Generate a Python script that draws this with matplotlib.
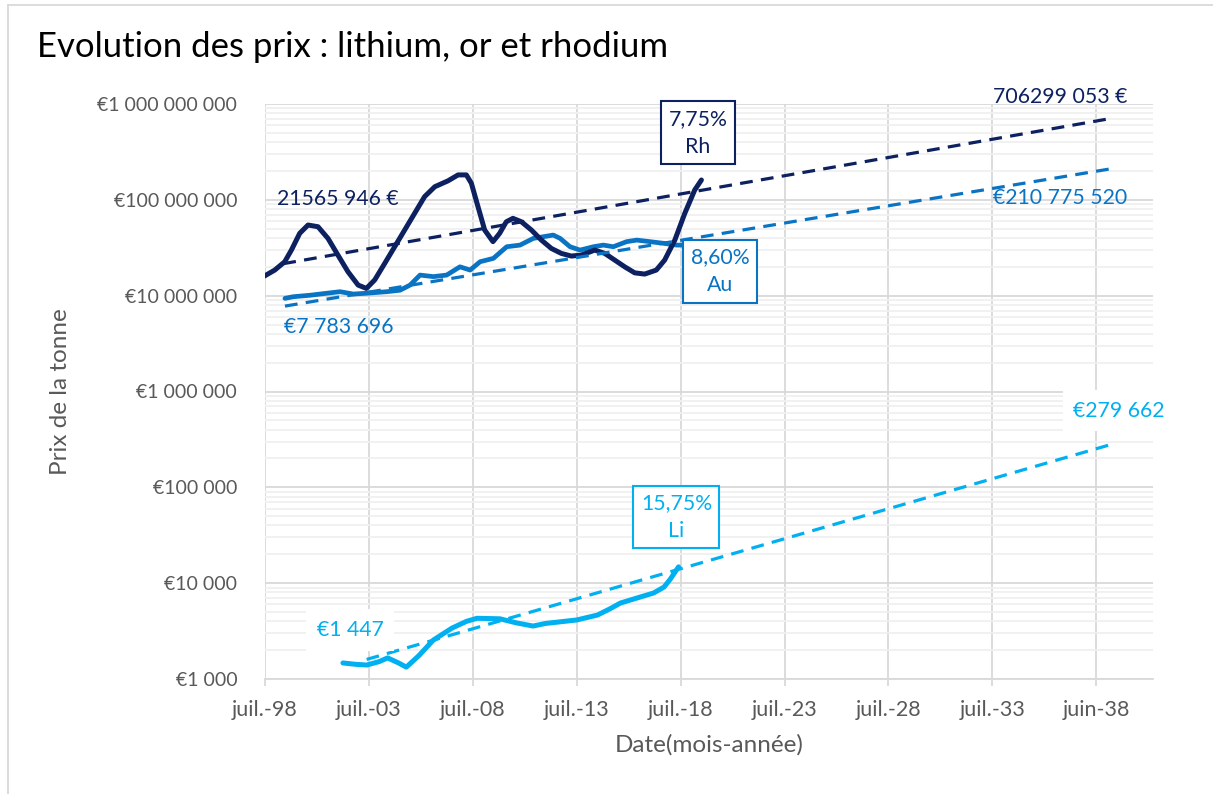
import numpy as np
import matplotlib
matplotlib.use("Agg")
import matplotlib.pyplot as plt
from matplotlib.lines import Line2D
from matplotlib.ticker import FixedLocator, LogLocator, NullFormatter

plt.rcParams['font.family'] = ['Lato', 'DejaVu Sans']

# colours
RH_COL = '#0D2160'
AU_COL = '#0A74C4'
LI_COL = '#00B0F0'
GREY = '#595959'

# rhodium (decimal year, EUR / t)
rh_year = [1998.40, 1998.97, 1999.45, 1999.77, 2000.17, 2000.57, 2001.05, 2001.53,
           2002.01, 2002.49, 2002.98, 2003.38, 2003.78, 2004.26, 2004.74, 2005.22,
           2005.70, 2006.18, 2006.67, 2007.31, 2007.79, 2008.19, 2008.43, 2008.75,
           2009.07, 2009.47, 2009.79, 2010.11, 2010.43, 2010.84, 2011.32, 2011.80,
           2012.28, 2012.76, 2013.24, 2013.72, 2014.37, 2014.85, 2015.33, 2015.81,
           2016.29, 2016.77, 2017.33, 2017.73, 2018.22, 2018.70, 2019.18, 2019.50]
rh_price = [1.57e7, 1.85e7, 2.26e7, 2.99e7, 4.47e7, 5.46e7, 5.24e7, 3.96e7,
            2.65e7, 1.78e7, 1.29e7, 1.19e7, 1.46e7, 2.17e7, 3.24e7, 4.84e7,
            7.23e7, 1.08e8, 1.37e8, 1.58e8, 1.82e8, 1.82e8, 1.49e8, 8.47e7,
            4.84e7, 3.66e7, 4.47e7, 5.9e7, 6.41e7, 5.9e7, 4.84e7, 3.8e7,
            3.11e7, 2.76e7, 2.59e7, 2.65e7, 2.99e7, 2.76e7, 2.35e7, 2.0e7,
            1.73e7, 1.68e7, 1.85e7, 2.35e7, 3.8e7, 7.23e7, 1.27e8, 1.61e8]

# or / gold
au_year = [1999.46, 1999.86, 2000.67, 2001.47, 2002.11, 2002.75, 2003.39, 2004.36,
           2005.0, 2005.48, 2005.96, 2006.6, 2007.24, 2007.88, 2008.37, 2008.85,
           2009.49, 2010.13, 2010.77, 2011.41, 2011.89, 2012.37, 2012.7, 2013.18,
           2013.66, 2014.3, 2014.78, 2015.26, 2015.9, 2016.39, 2017.03, 2017.67,
           2018.31, 2018.79]
au_price = [9.37e6, 9.75e6, 1.01e7, 1.06e7, 1.1e7, 1.04e7, 1.06e7, 1.1e7,
            1.14e7, 1.29e7, 1.64e7, 1.58e7, 1.64e7, 2.0e7, 1.85e7, 2.26e7,
            2.45e7, 3.24e7, 3.37e7, 3.96e7, 4.12e7, 4.29e7, 3.96e7, 3.24e7,
            2.99e7, 3.24e7, 3.37e7, 3.24e7, 3.66e7, 3.8e7, 3.66e7, 3.52e7,
            3.37e7, 3.37e7]

# lithium
li_year = [2002.25, 2002.9, 2003.4, 2004.0, 2004.4, 2004.9, 2005.3, 2005.9,
           2006.6, 2007.5, 2008.2, 2008.7, 2009.8, 2010.6, 2011.4, 2012.0,
           2012.7, 2013.5, 2014.5, 2015.1, 2015.6, 2016.4, 2017.2, 2017.7,
           2018.0, 2018.4]
li_price = [1470, 1420, 1400, 1520, 1660, 1480, 1330, 1750,
            2550, 3400, 4000, 4300, 4250, 3850, 3570, 3800,
            3950, 4130, 4650, 5400, 6200, 7000, 7900, 9100,
            11000, 14800]

# exponential trend lines (start, end)
rh_trend_year = [1999.38, 2039.2]
rh_trend = [21565946, 706299053]
au_trend_year = [1999.46, 2039.2]
au_trend = [7783696, 210775520]
li_trend_year = [2003.39, 2039.2]
li_trend = [1600, 279662]

tick_years = [1998.5 + 5 * i for i in range(9)]
tick_labels = ['juil.-98', 'juil.-03', 'juil.-08', 'juil.-13', 'juil.-18',
               'juil.-23', 'juil.-28', 'juil.-33', 'juin-38']
y_ticks = [1e3, 1e4, 1e5, 1e6, 1e7, 1e8, 1e9]
y_labels = ['€1 000', '€10 000', '€100 000', '€1 000 000', '€10 000 000',
            '€100 000 000', '€1 000 000 000']

fig = plt.figure(figsize=(12.13, 7.94), dpi=100)
ax = fig.add_axes([265 / 1213, 1 - 679 / 794, 888 / 1213, 575 / 794])

ax.set_yscale('log')
ax.set_xlim(1998.5, 2041.23)
ax.set_ylim(1e3, 1e9)

# grid
ax.yaxis.set_major_locator(FixedLocator(y_ticks))
ax.yaxis.set_minor_locator(LogLocator(base=10, subs=np.arange(2, 10)))
ax.yaxis.set_minor_formatter(NullFormatter())
ax.set_yticklabels(y_labels)
ax.set_xticks(tick_years)
ax.set_xticklabels(tick_labels)
ax.grid(which='major', axis='both', color='#D9D9D9', lw=1.3, zorder=0)
ax.grid(which='minor', axis='y', color='#F0F0F0', lw=1.3, zorder=0)
ax.set_axisbelow(True)
for s in ['top', 'right', 'left']:
    ax.spines[s].set_visible(False)
ax.spines['bottom'].set_color('#D9D9D9')
ax.spines['bottom'].set_linewidth(1.3)
ax.tick_params(axis='y', which='both', length=0, labelsize=14, labelcolor=GREY, pad=20)
ax.tick_params(axis='x', length=5, color='#D9D9D9', width=1.3, labelsize=15.5,
               labelcolor=GREY, pad=10)

# data
ax.plot(li_year, li_price, color=LI_COL, lw=3.6, solid_capstyle='round',
        solid_joinstyle='round', zorder=3)
ax.plot(au_year, au_price, color=AU_COL, lw=3.4, solid_capstyle='round',
        solid_joinstyle='round', zorder=3)
ax.plot(rh_year, rh_price, color=RH_COL, lw=3.6, solid_capstyle='round',
        solid_joinstyle='round', zorder=4)

# trends
ax.plot(li_trend_year, li_trend, color=LI_COL, lw=2.3, dashes=(4, 2.6), zorder=5)
ax.plot(au_trend_year, au_trend, color=AU_COL, lw=2.3, dashes=(4, 2.6), zorder=5)
ax.plot(rh_trend_year, rh_trend, color=RH_COL, lw=2.3, dashes=(4, 2.6), zorder=5)

# annotations
fs = 15.3
def box(x, y, txt, col):
    ax.text(x, y, txt, color=col, fontsize=fs, ha='center', va='center',
            linespacing=1.5, zorder=6,
            bbox=dict(boxstyle='square,pad=0.35', fc='white', ec=col, lw=1.5))

box(2019.34, 5.0e8, '7,75%\nRh', RH_COL)
box(2020.4, 1.8e7, '8,60%\nAu', AU_COL)
box(2018.3, 4.9e4, '15,75%\nLi', LI_COL)

ax.text(2036.76, 1.18e9, '706299 053 €', color=RH_COL, fontsize=fs, ha='center',
        va='center', clip_on=False, zorder=6)
ax.text(2036.76, 1.05e8, '€210 775 520', color=AU_COL, fontsize=fs, ha='center',
        va='center', zorder=6)
ax.text(2002.06, 4.7e6, '€7 783 696', color=AU_COL, fontsize=fs, ha='center',
        va='center', zorder=6)
ax.text(2002.0, 1.03e8, '21565 946 €', color=RH_COL, fontsize=fs, ha='center',
        va='center', zorder=6)
ax.text(2039.6, 6.3e5, '€279 662', color=LI_COL, fontsize=fs, ha='center',
        va='center', clip_on=False, zorder=6,
        bbox=dict(boxstyle='square,pad=0.5', fc='white', ec='none'))
ax.text(2002.6, 3.25e3, '€1 447', color=LI_COL, fontsize=fs, ha='center',
        va='center', zorder=6,
        bbox=dict(boxstyle='square,pad=0.5', fc='white', ec='none'))

ax.set_xlabel('Date(mois-année)', fontsize=17.5, color=GREY, labelpad=10)
ax.set_ylabel('Prix de la tonne', fontsize=17.5, color=GREY)
ax.yaxis.set_label_coords((71 - 265) / 888, 0.5)

fig.text(37 / 1213, 1 - 47 / 794, 'Evolution des prix : lithium, or et rhodium',
         fontsize=25, color='black', ha='left', va='center')

# chart border
fig.add_artist(Line2D([8 / 1213, 1], [1 - 5 / 794, 1 - 5 / 794], color='#D9D9D9', lw=1.3))
fig.add_artist(Line2D([8 / 1213, 8 / 1213], [0, 1 - 5 / 794], color='#D9D9D9', lw=1.3))

fig.savefig('out.png', dpi=100)
